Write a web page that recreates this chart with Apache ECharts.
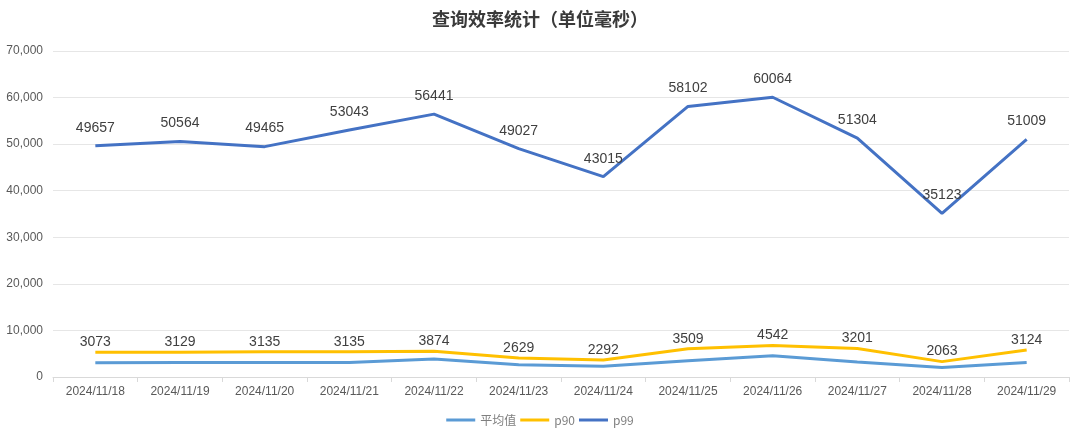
<!DOCTYPE html>
<html>
<head>
<meta charset="utf-8">
<script src="https://cdn.jsdelivr.net/npm/echarts@6/dist/echarts.min.js"></script>
<style>html,body{margin:0;padding:0;background:#fff}#c{width:1080px;height:434px}</style>
</head>
<body>
<div id="c"></div>
<script>
const categories = ['2024/11/18','2024/11/19','2024/11/20','2024/11/21','2024/11/22','2024/11/23','2024/11/24','2024/11/25','2024/11/26','2024/11/27','2024/11/28','2024/11/29'];
const avgValues = [3073, 3129, 3135, 3135, 3874, 2629, 2292, 3509, 4542, 3201, 2063, 3124];
const p90Values = [5300, 5300, 5400, 5400, 5550, 4100, 3650, 6050, 6750, 6100, 3300, 5800];
const p99Values = [49657, 50564, 49465, 53043, 56441, 49027, 43015, 58102, 60064, 51304, 35123, 51009];
const yTicks = { min: 0, max: 70000, interval: 10000 };

const font = '"Liberation Sans", Arial, sans-serif';
const chart = echarts.init(document.getElementById('c'));
chart.setOption({
  animation: false,
  title: {
    text: '查询效率统计（单位毫秒）',
    left: 'center', top: 5,
    textStyle: { fontFamily: '"Noto Sans CJK SC", sans-serif', fontSize: 18, fontWeight: 'bold', color: '#3a3a3a' }
  },
  legend: {
    bottom: 3, left: 'center', icon: 'rect',
    itemWidth: 29, itemHeight: 3, itemGap: 4,
    textStyle: { fontFamily: '"Noto Sans CJK SC", sans-serif', fontSize: 12, color: '#7f7f7f' },
    data: ['平均值', 'p90', 'p99']
  },
  grid: { left: 53, right: 11, top: 51, bottom: 57 },
  xAxis: {
    type: 'category', data: categories, boundaryGap: true,
    axisLine: { lineStyle: { color: '#d9d9d9', width: 1 } },
    axisTick: { show: true, alignWithLabel: false, length: 5, lineStyle: { color: '#d9d9d9' } },
    axisLabel: { fontFamily: font, fontSize: 12, color: '#595959', margin: 9 }
  },
  yAxis: {
    type: 'value', min: yTicks.min, max: yTicks.max, interval: yTicks.interval,
    axisLine: { show: false }, axisTick: { show: false },
    splitLine: { lineStyle: { color: '#e6e6e6', width: 1 } },
    axisLabel: { fontFamily: font, fontSize: 12, color: '#595959', margin: 10,
      formatter: v => v.toLocaleString('en-US') }
  },
  series: [
    {
      name: '平均值', type: 'line', data: avgValues, symbol: 'circle', symbolSize: 0.01,
      lineStyle: { color: '#5B9BD5', width: 3 }, itemStyle: { color: '#5B9BD5' }
    },
    {
      name: 'p90', type: 'line', data: p90Values, symbol: 'circle', symbolSize: 0.01,
      lineStyle: { color: '#FFC000', width: 3 }, itemStyle: { color: '#FFC000' },
      label: { show: true, position: 'top', distance: 3, fontFamily: font, fontSize: 14, color: '#404040',
        formatter: p => String(avgValues[p.dataIndex]) }
    },
    {
      name: 'p99', type: 'line', data: p99Values, symbol: 'circle', symbolSize: 0.01,
      lineStyle: { color: '#4472C4', width: 3 }, itemStyle: { color: '#4472C4' },
      label: { show: true, position: 'top', distance: 11, fontFamily: font, fontSize: 14, color: '#404040' }
    }
  ]
});
</script>
</body>
</html>
